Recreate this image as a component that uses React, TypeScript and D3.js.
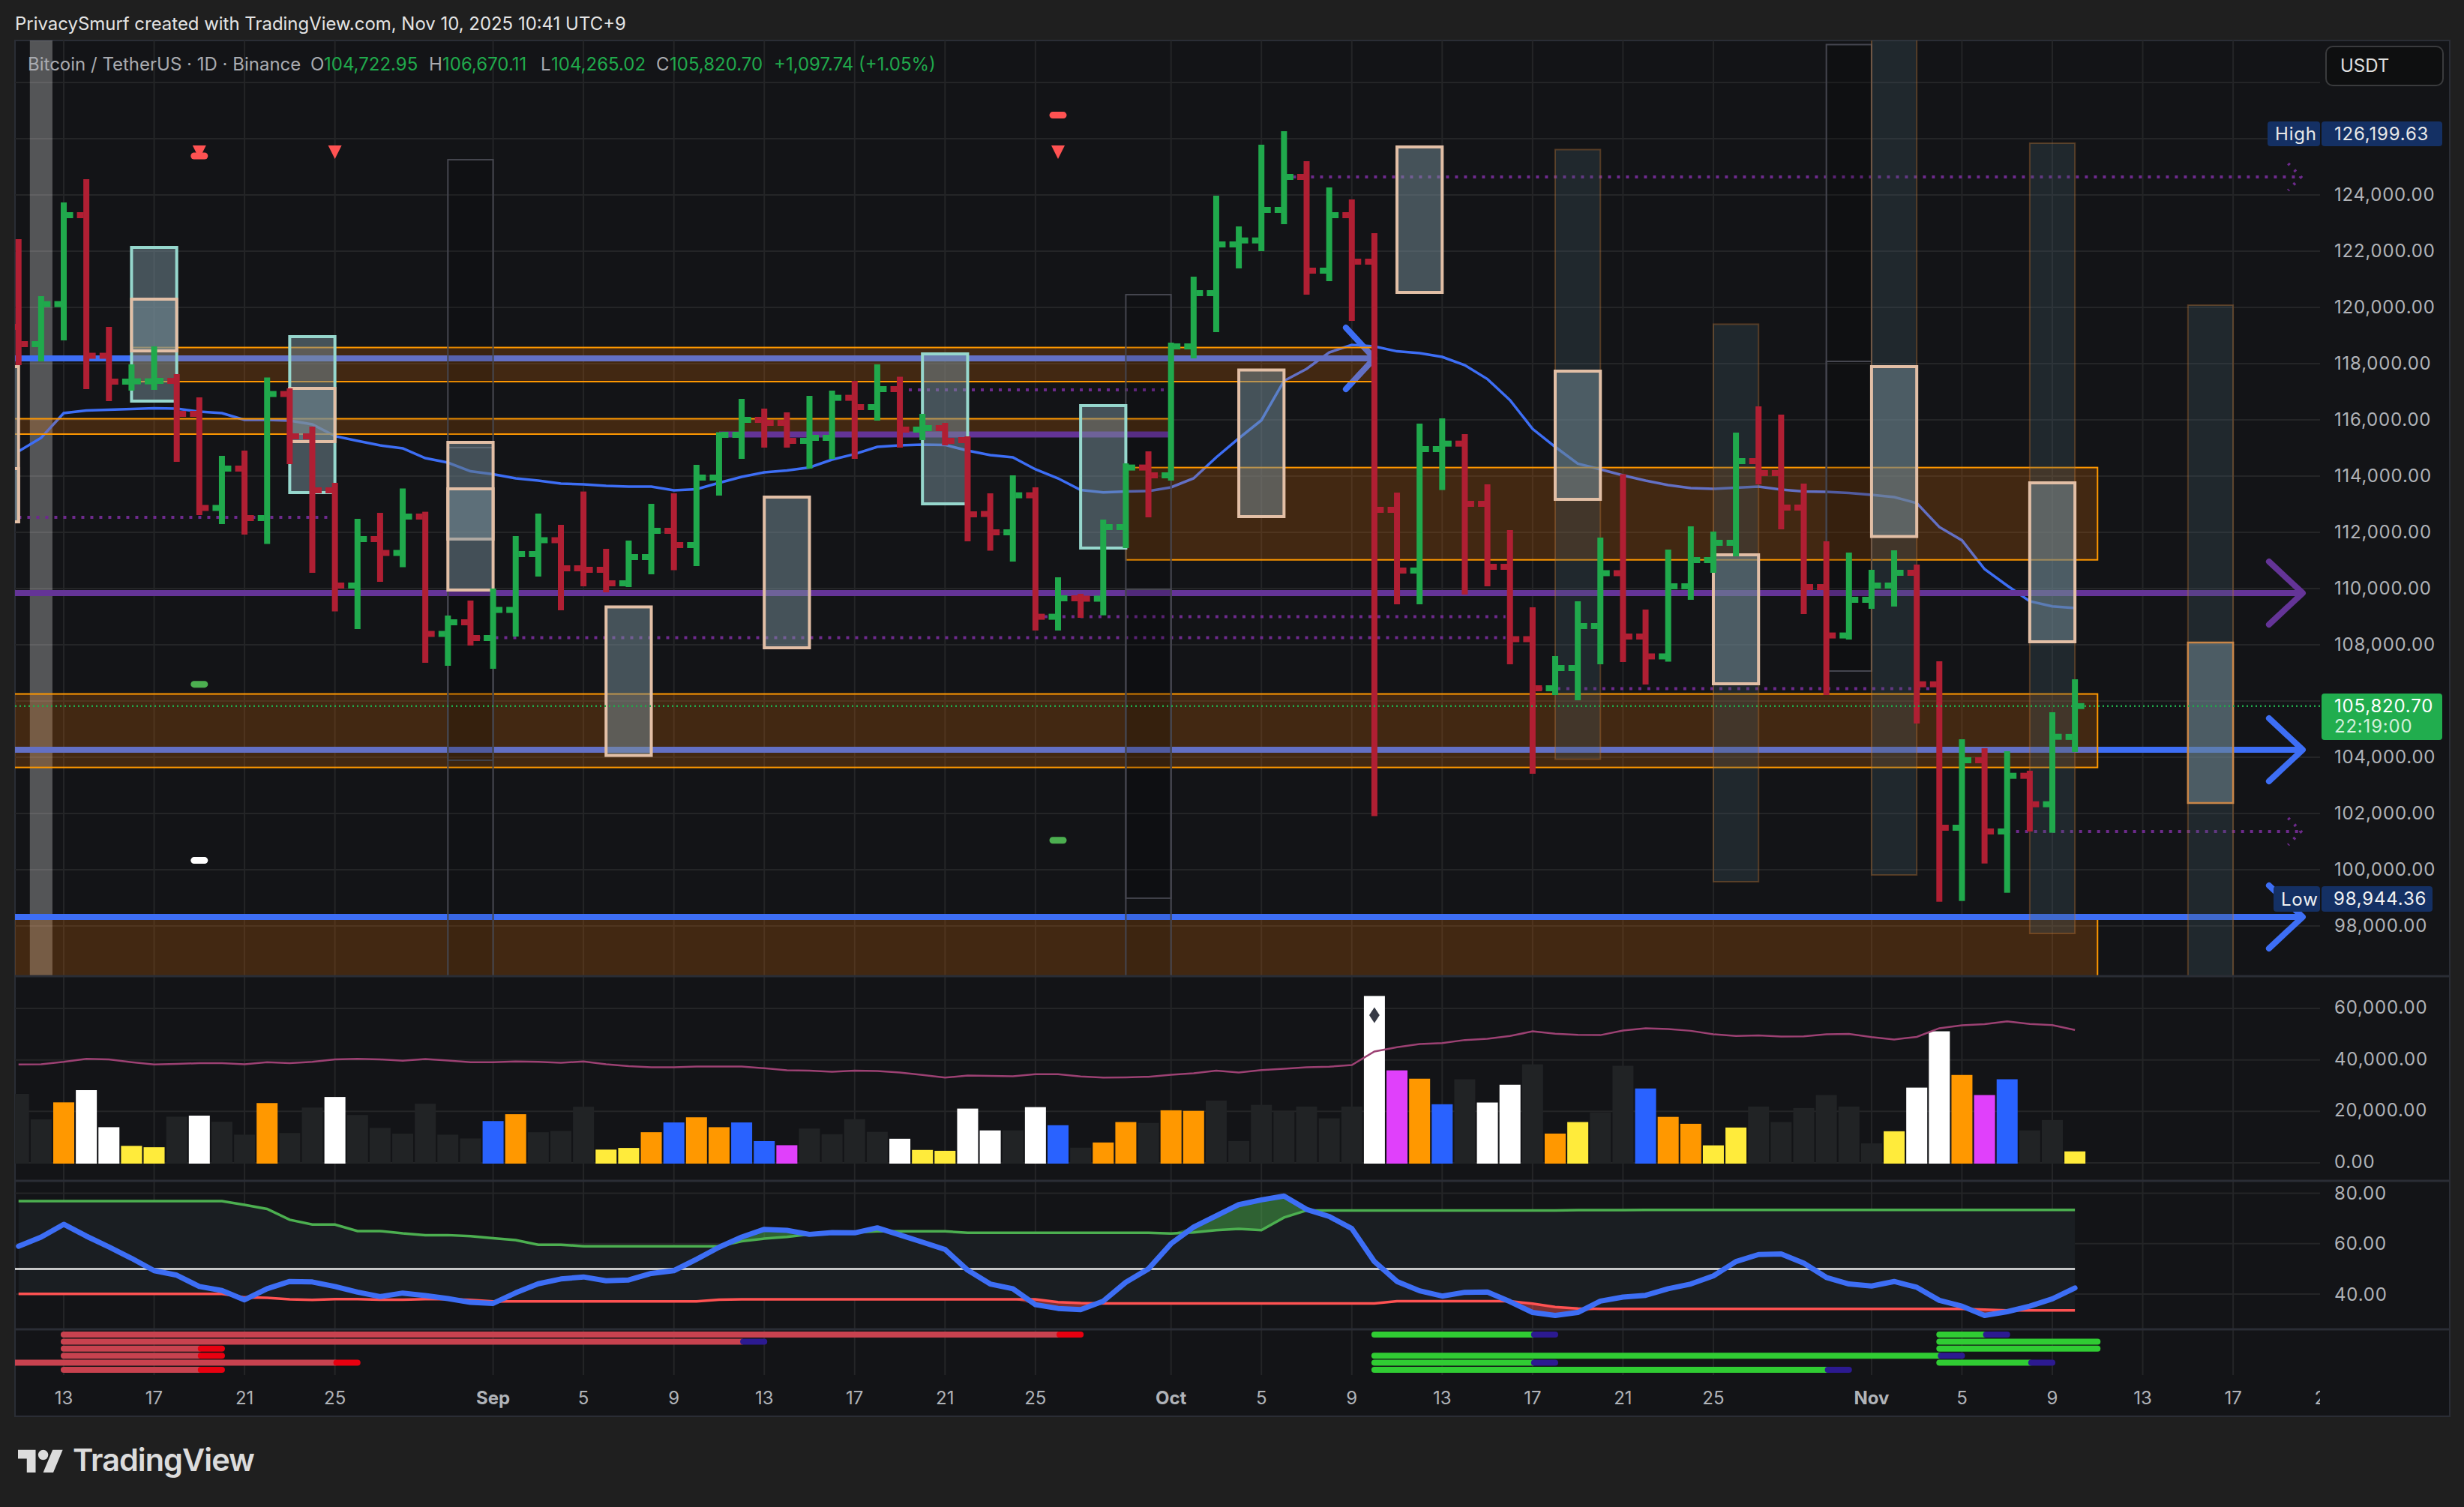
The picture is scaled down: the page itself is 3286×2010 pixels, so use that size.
import React from "react";
import * as d3 from "d3";

const FONT = "Inter, 'Noto Sans', sans-serif";
const W = 3286, H = 2010;
const L = 20, R = 3094, RF = 3267, T = 54, MB = 1302, VB = 1575, OB = 1773, SB = 1834, TB = 1889;

// ---- time: day index 0 = Aug 13 2025; first bar = -2 (Aug 11)
const firstDay = -2;
const timeTicks: [number, string, boolean][] = [
  [0, "13", false], [4, "17", false], [8, "21", false], [12, "25", false], [19, "Sep", true], [23, "5", false], [27, "9", false],
  [31, "13", false], [35, "17", false], [39, "21", false], [43, "25", false], [49, "Oct", true], [53, "5", false], [57, "9", false],
  [61, "13", false], [65, "17", false], [69, "21", false], [73, "25", false], [80, "Nov", true], [84, "5", false], [88, "9", false],
  [92, "13", false], [96, "17", false], [100, "21", false],
];

// ---- OHLC
const opens = [
  119307, 118693, 120117, 123280, 118280, 117360, 117370, 117387, 116213, 112867, 114267, 112507, 116920, 115413, 113493, 110107, 111760, 111267, 112560, 108387, 108800,
  108240, 109240, 111227, 111720, 110720, 110667, 110187, 111120, 112053, 111547, 113947, 115467, 116000, 115893, 115253, 115360, 116784, 116453, 117093, 115653, 115707, 115280, 112653, 112000, 113317, 108997, 109653, 109640, 112187, 114304,
  114027, 118613, 120507, 122240, 122381, 123467, 124640, 121307, 123280, 121627, 112800, 110640, 114960, 115155, 113013, 110773, 108200, 106453, 107173, 108667, 110547, 108293, 107587, 110080, 111013, 111627, 114533, 114107, 112880, 110053, 108331,
  109600, 110107, 110560, 106595, 101493, 103893, 101360, 103341, 102328, 104722.95,
];
const highs = [
  122427, 120400, 123733, 124560, 119307, 117973, 118613, 117627, 116800, 114720, 114907, 117507, 117120, 115760, 113760, 112480, 112693, 113560, 112731, 109040, 109573,
  110000, 111867, 112667, 112267, 113451, 111413, 111707, 113013, 113387, 114400, 115560, 116747, 116400, 116267, 116853, 117040, 117387, 117973, 117533, 116213, 115893, 115413, 113387, 114027, 113600, 110400, 109813, 112453, 114453, 114880,
  118747, 121093, 123973, 122880, 125787, 126267, 125200, 124267, 123840, 122640, 113413, 115867, 116053, 115493, 113707, 112080, 109333, 107600, 109547, 111813, 114067, 109253, 111387, 112213, 112027, 115547, 116480, 116187, 113733, 111680, 111280,
  110667, 111360, 110853, 107413, 104640, 104320, 104213, 103520, 105600, 106773,
];
const lows = [
  117947, 118080, 118827, 117093, 116667, 117040, 117067, 114507, 112613, 112293, 111920, 111587, 114427, 110560, 109187, 108560, 110240, 110760, 107360, 107253, 107973,
  107147, 108293, 110427, 109227, 110080, 109867, 110053, 110507, 110653, 110800, 113307, 114613, 115013, 115013, 114267, 114613, 114613, 115973, 115013, 115280, 115093, 111680, 111347, 110960, 108507, 108507, 108960, 109048, 111440, 112533,
  113840, 118187, 119120, 121387, 122000, 122960, 120453, 120933, 119520, 101907, 109440, 109440, 113504, 109787, 110080, 107307, 103413, 106213, 106027, 107307, 107387, 106587, 107400, 109600, 110560, 111147, 113707, 112107, 109093, 106213, 108187,
  109280, 109360, 105200, 98861, 98888, 100221, 99181, 101360, 101315, 104187,
];
const closes = [
  118693, 120117, 123280, 118280, 117360, 117370, 117387, 116213, 112867, 114267, 112507, 116920, 115413, 113493, 110107, 111760, 111267, 112560, 108387, 108800, 108240,
  109240, 111227, 111720, 110720, 110667, 110187, 111120, 112053, 111547, 113947, 115467, 116000, 115893, 115253, 115360, 116784, 116453, 117093, 115653, 115707, 115253, 112640, 112000, 113317, 108997, 109653, 109640, 112187, 114304, 114027,
  118613, 120507, 122240, 122381, 123467, 124640, 121307, 123280, 121627, 112800, 110640, 114960, 115155, 113013, 110773, 108200, 106453, 107173, 108667, 110547, 108293, 107587, 110080, 111013, 111627, 114533, 114107, 112880, 110053, 108331, 109600,
  110107, 110560, 106595, 101493, 103893, 101360, 103341, 102328, 104728, 105820.7,
];
const priceMA = [
  114880, 115360, 116240, 116336, 116363, 116389, 116416, 116400, 116293, 116240, 116000, 116000, 115973, 115840, 115424, 115253, 115093, 114987, 114640, 114480, 114171,
  114064, 113920, 113840, 113733, 113707, 113653, 113627, 113627, 113493, 113533, 113760, 113973, 114133, 114200, 114307, 114587, 114784, 115040, 115093, 115120, 115109, 114907, 114747, 114667, 114240, 113920, 113504, 113419, 113453, 113467,
  113600, 113920, 114667, 115341, 115987, 117387, 117813, 118400, 118667, 118613, 118437, 118373, 118240, 117947, 117451, 116701, 115680, 115040, 114440, 114240, 114027, 113840, 113680, 113573, 113547, 113587, 113627, 113520, 113451, 113440, 113400,
  113333, 113253, 113040, 112187, 111715, 110693, 110107, 109547, 109368, 109307,
];

// ---- volume
const volumes = [
  26800, 16900, 23500, 28250, 13860, 6600, 6070, 17950, 18350, 15970, 10960, 23230, 11600, 21500, 25600, 18600, 13600, 11350, 23000, 10960, 9500,
  16240, 18900, 11900, 12400, 21800, 5150, 5800, 11900, 15700, 17700, 13860, 15700, 8450, 6860, 13330, 11160, 16960, 12050, 9370, 5020, 4690, 21090, 12610, 12610, 21650, 14620, 5910, 7920, 15850, 15510,
  20420, 20200, 24220, 8480, 22540, 19860, 21870, 17300, 21870, 64840, 35935, 32700, 22770, 32480, 23440, 30360, 38280, 11380, 15850, 19640, 37720, 28900, 17860, 15180, 6800, 13730, 21870, 15850, 21300, 26340, 21870,
  7590, 12280, 29240, 51110, 34150, 26340, 32480, 12610, 16630, 4460,
];
const volumeKinds = (
  "g g o w w y y g w g g o g g w g g g g g g " +
  "b o g g g y y o b o o b b m g g g g w y y w w g w b g o o g " +
  "o o g g g g g g g w m o b g w w g o y g g b o o y y g g g g g " +
  "g y w w o m b g g y"
).split(" ");
const volumeColors: Record<string, string> = { g: "#212325", o: "#ff9800", w: "#ffffff", y: "#ffeb3b", b: "#2962ff", m: "#e040fb" };
const volumeMA = [
  38200, 38330, 39250, 40440, 40180, 39120, 38200, 38460, 38720, 38720, 38330, 39120, 38720, 39250, 40180, 40440, 40180, 39650, 40310, 39780, 39120,
  39120, 39390, 39250, 38860, 39390, 38330, 37540, 37140, 37140, 37400, 37400, 37400, 36750, 35950, 35820, 35420, 35790, 35680, 35120, 34120, 33110, 33900, 33780, 33670, 34450, 34450, 33560, 33110, 33225, 33450,
  34230, 34790, 35790, 35120, 36015, 36570, 37130, 37355, 38025, 43270, 44940, 46170, 46500, 47730, 48180, 49300, 51080, 50190, 49740, 49630, 51415, 52310, 51970, 51300, 49970, 49300, 49520, 49070, 49180, 49970, 50080,
  48850, 47950, 48960, 52310, 53425, 53870, 54990, 53980, 53535, 51640,
];

// ---- RSI pane
const rsi = [
  59, 62.6, 67.7, 63, 58.7, 54.2, 49.3, 47.5, 43, 41.4, 37.7, 42.1, 45, 44.8, 43, 40.8, 39, 40.4, 39.4, 38.2, 36.7,
  36.3, 40.5, 44.1, 46, 46.8, 45.3, 45.6, 48.2, 49.3, 53.8, 58.6, 62.6, 65.7, 65.3, 63.7, 64.4, 64.3, 66.3, 63.5, 60.6, 57.7, 49.5, 44, 42.1, 35.8, 34.3, 33.8, 37.2, 44.7, 50,
  60, 66.6, 71.1, 75.5, 77.4, 78.9, 73.6, 70.8, 66, 52.9, 45, 41.3, 39.2, 40.7, 40.8, 37, 32.7, 31.5, 32.7, 37.2, 38.8, 39.5, 42.1, 44, 47.2, 52.9, 55.7, 55.9, 52.3, 46.6, 44,
  43.2, 45, 42.7, 37.5, 35.2, 31.5, 33, 35.2, 38.1, 42.4,
];
const upperBand = [
  76.9, 76.9, 76.9, 76.9, 76.9, 76.9, 76.9, 76.9, 76.9, 76.9, 75.4, 73.8, 69.5, 67.6, 67.6, 65, 65, 64.1, 63.4, 63.4, 63,
  62.2, 61.4, 59.6, 59.6, 59, 59, 59, 59, 59, 59, 59, 61, 62, 62.7, 63.7, 64.4, 64.5, 64.9, 64.9, 64.9, 64.9, 64.3, 64.3, 64.3, 64.3, 64.3, 64.3, 64.3, 64.3, 64.3,
  64, 64.5, 65.4, 65.9, 65.4, 70.4, 73.2, 73.2, 73.2, 73.2, 73.2, 73.2, 73.2, 73.2, 73.2, 73.2, 73.2, 73.2, 73.3, 73.3, 73.3, 73.4, 73.4, 73.4, 73.4, 73.4, 73.4, 73.4, 73.4, 73.4, 73.4,
  73.4, 73.4, 73.4, 73.4, 73.4, 73.4, 73.4, 73.4, 73.4, 73.4,
];
const lowerBand = [
  40.1, 40.1, 40.1, 40.1, 40.1, 40.1, 40.1, 40.1, 40.1, 40.1, 38.7, 38.5, 37.9, 37.7, 38, 38, 37.8, 37.8, 38, 38, 37.7,
  37.1, 37.1, 37.1, 37.1, 37.1, 37.1, 37.1, 37.1, 37.1, 37.1, 37.8, 37.9, 37.9, 37.9, 37.9, 37.9, 37.9, 37.9, 37.9, 37.9, 37.9, 37.9, 37.9, 37.9, 37.9, 36.8, 36.4, 36.3, 36.3, 36.3,
  36.3, 36.3, 36.3, 36.3, 36.3, 36.3, 36.3, 36.3, 36.3, 36.3, 37.2, 37.2, 37.2, 37.2, 37.2, 37.2, 36.2, 34.9, 34.3, 34.1, 34.1, 34.1, 34.1, 34.1, 34.1, 34.1, 34.1, 34.1, 34.1, 34.1, 34.1,
  34.1, 34.1, 34.1, 34.1, 34.1, 33.8, 33.5, 33.5, 33.5, 33.5,
];

// ---- strips: row, start day, run end day, hold end day, kind
const stripSegments: [number, number, number, number, string][] = [
  [0, 0, 44, 45, "red"], [1, 0, 30, 31, "redBlue"], [2, 0, 6, 7, "red"], [3, 0, 6, 7, "red"], [4, -4, 12, 13, "red"], [5, 0, 6, 7, "red"],
  [0, 58, 65, 66, "green"], [3, 58, 83, 84, "green"], [4, 58, 65, 66, "green"], [5, 58, 78, 79, "green"],
  [0, 83, 85, 86, "green"], [1, 83, 90, 90, "green"], [2, 83, 90, 90, "green"], [4, 83, 87, 88, "green"],
];

// ---- drawings on the price pane
const zones: [number, number, number, number][] = [
  [3, 58, 118573, 117360], [-4, 49, 116040, 115493], [47, 90, 114304, 111021], [-4, 90, 106251, 103637], [-4, 90, 98240, 90000],
];
// levels under the zones
const solidLines: [number, number, number, string, number, number, number][] = [
  [-4, 58, 118187, "#3d6ef5", 8, 38, 41], [-4, 99.08, 109840, "#643497", 8, 45, 42], [-4, 99.08, 104267, "#3d6ef5", 8, 45, 42],
];
// levels above the zones
const topLines: [number, number, number, string, number, number, number][] = [
  [29, 49, 115477, "#643497", 8, 0, 0], [-4, 99.08, 98320, "#3d6ef5", 8, 45, 42],
];
const dottedLines: [number, number, number, boolean][] = [
  [-4, 11.8, 112533, false], [37, 49, 117067, false], [18.3, 63.8, 108251, false], [43.4, 63.8, 108997, false],
  [54.4, 99, 124640, true], [65.3, 82.7, 106440, false], [85.6, 99, 101360, true],
];
const beigeBoxes: [number, number, number, number][] = [
  [-4, -2, 117893, 112373], [-4, -2, 114267, 112373], [3, 5, 120293, 118453], [10, 12, 117120, 115227], [17, 19, 115200, 111760], [17, 19, 113547, 109947],
  [24, 26, 109347, 104064], [31, 33, 113253, 107893], [52, 54, 117773, 112560], [59, 61, 125707, 120533], [66, 68, 117733, 113173],
  [73, 75, 111200, 106613], [80, 82, 117893, 111851], [87, 89, 113760, 108107],
];
const tealBoxes: [number, number, number, number][] = [
  [3, 5, 122133, 116667], [10, 12, 118960, 113413], [38, 40, 118347, 113013], [45, 47, 116507, 111440],
];
const dimBoxes: [number, number, number, number][] = [
  [66, 68, 125613, 103931], [73, 75, 119403, 99573], [80, 82, 131000, 99813], [87, 89, 125840, 97733], [94, 96, 120080, 90000],
];
const outlineBoxes: [number, number, number, number, number][] = [
  [17, 19, 125253, 103893, 0.12], [17, 19, 115013, 90000, 0.07],
  [47, 49, 120453, 98987, 0.12], [47, 49, 109973, 90000, 0.07],
  [78, 80, 129347, 107067, 0.18], [78, 80, 118080, 107067, 0],
];
const orangeThinBox: [number, number, number, number] = [94, 96, 108080, 102373];
const downTriangles: [number, number][] = [[6, 125760], [12, 125760], [44, 125760]];
const pills: [number, number, string][] = [[6, 125387, "#ff5252"], [44, 126837, "#ff5252"], [6, 106595, "#4caf50"], [6, 100331, "#ffffff"], [44, 101048, "#4caf50"]];

const priceTicks = [98000, 100000, 102000, 104000, 108000, 110000, 112000, 114000, 116000, 118000, 120000, 122000, 124000];
const hiddenGridPrices = [106000, 126000, 128000];
const volumeTicks = [0, 20000, 40000, 60000];
const rsiTicks = [40, 60, 80];

const x = d3.scaleLinear().domain([0, 88]).range([85, 2737]);
const y = d3.scaleLinear().domain([110000, 98000]).range([785, 1235]);
const yVol = d3.scaleLinear().domain([0, 60000]).range([1551, 1345]);
const yRsi = d3.scaleLinear().domain([40, 80]).range([1726, 1591.6]);
const fmt = d3.format(",.2f");
const dayOf = (i: number) => i + firstDay;

const BG = "#131417", PAGE = "#1f1f1f", GRID = "#242527", SEP = "#2a2d35", AXIS = "#b0b3b8";
const RED = "#b01f33", GREEN = "#20a94c";

const lineX = (i: number) => x(dayOf(i));
const maPath = d3.line<number>().x((_, i) => lineX(i)).y(d => y(d))(priceMA)!;
const volMaPath = d3.line<number>().x((_, i) => lineX(i)).y(d => yVol(d))(volumeMA)!;
const rsiPath = d3.line<number>().x((_, i) => lineX(i)).y(d => yRsi(d))(rsi)!;
const upperPath = d3.line<number>().x((_, i) => lineX(i)).y(d => yRsi(d))(upperBand)!;
const lowerPath = d3.line<number>().x((_, i) => lineX(i)).y(d => yRsi(d))(lowerBand)!;
const idx = d3.range(rsi.length);
const bandArea = d3.area<number>().x(i => lineX(i)).y0(i => yRsi(upperBand[i])).y1(i => yRsi(lowerBand[i]))(idx)!;
const overArea = d3.area<number>().x(i => lineX(i)).y0(i => yRsi(upperBand[i])).y1(i => yRsi(Math.max(rsi[i], upperBand[i])))(idx)!;
const underArea = d3.area<number>().x(i => lineX(i)).y0(i => yRsi(lowerBand[i])).y1(i => yRsi(Math.min(rsi[i], lowerBand[i])))(idx)!;

const Box = ({ b, stroke, sw, fill }: { b: number[]; stroke: string; sw: number; fill: string }) => (
  <rect x={x(b[0])} y={y(b[2])} width={x(b[1]) - x(b[0])} height={y(b[3]) - y(b[2])} fill={fill} stroke={stroke} strokeWidth={sw} />
);
const BOXFILL = "rgba(120,144,156,0.5)";
const Level = ({ l }: { l: [number, number, number, string, number, number, number] }) => (
  <g>
    <line x1={x(l[0])} x2={x(l[1])} y1={y(l[2])} y2={y(l[2])} stroke={l[3]} strokeWidth={l[4]} />
    {l[5] > 0 && <path d={`M${x(l[1]) - l[5]},${y(l[2]) - l[6]}L${x(l[1])},${y(l[2])}L${x(l[1]) - l[5]},${y(l[2]) + l[6]}`} fill="none" stroke={l[3]} strokeWidth={8} strokeLinecap="round" strokeLinejoin="round" />}
  </g>
);

export default function App() {
  return (
    <svg width={W} height={H} viewBox={`0 0 ${W} ${H}`} style={{ position: "absolute", left: 0, top: 0, display: "block" }} fontFamily={FONT}>
      <defs>
        <clipPath id="main"><rect x={L} y={T} width={R - L} height={MB - T} /></clipPath>
        <clipPath id="lower"><rect x={L} y={MB} width={R - L} height={TB - MB} /></clipPath>
        <clipPath id="axis"><rect x={L} y={SB} width={R - L} height={TB - SB} /></clipPath>
      </defs>
      <rect width={W} height={H} fill={PAGE} />
      <rect x={L} y={T} width={RF - L} height={TB - T} fill={BG} stroke={SEP} strokeWidth={2} />

      {/* grid */}
      {[...priceTicks, ...hiddenGridPrices].map(p => <line key={p} x1={L} x2={R} y1={y(p)} y2={y(p)} stroke={GRID} strokeWidth={2} />)}
      {volumeTicks.map(v => <line key={v} x1={L} x2={R} y1={yVol(v)} y2={yVol(v)} stroke={GRID} strokeWidth={2} />)}
      {rsiTicks.map(v => <line key={v} x1={L} x2={R} y1={yRsi(v)} y2={yRsi(v)} stroke={GRID} strokeWidth={2} />)}
      {timeTicks.filter(t => x(t[0]) < R).map(t => <line key={t[0]} x1={x(t[0])} x2={x(t[0])} y1={T} y2={SB} stroke={GRID} strokeWidth={2} />)}

      <g clipPath="url(#main)">
        {/* session band */}
        <rect x={x(-1.5)} y={T} width={x(-0.5) - x(-1.5)} height={MB - T} fill="rgba(255,255,255,0.28)" />
        {/* moving average and levels */}
        <path d={maPath} fill="none" stroke="#3d6ef5" strokeWidth={3.5} />
        {solidLines.map((l, i) => <Level key={i} l={l} />)}
        {dottedLines.map((l, i) => (
          <g key={i}>
            <line x1={x(l[0])} x2={x(l[1])} y1={y(l[2])} y2={y(l[2])} stroke="#6d2a8c" strokeWidth={4} strokeDasharray="4 8" />
            {l[3] && <path d={`M${x(l[1]) - 17},${y(l[2]) - 18}L${x(l[1])},${y(l[2])}L${x(l[1]) - 17},${y(l[2]) + 18}`} fill="none" stroke="#6d2a8c" strokeWidth={4} strokeDasharray="3 9" />}
          </g>
        ))}
        {/* zones */}
        {zones.map((z, i) => <Box key={i} b={z} fill="rgba(255,120,0,0.2)" stroke="#ff9800" sw={2} />)}
        {topLines.map((l, i) => <Level key={i} l={l} />)}
        {/* boxes */}
        {outlineBoxes.map((b, i) => <Box key={i} b={b} fill={`rgba(0,0,0,${b[4]})`} stroke="#45464f" sw={2} />)}
        {dimBoxes.map((b, i) => <Box key={i} b={b} fill="rgba(70,92,104,0.28)" stroke="rgba(200,120,50,0.35)" sw={2} />)}
        {tealBoxes.map((b, i) => <Box key={i} b={b} fill={BOXFILL} stroke="#96d7cd" sw={4} />)}
        {beigeBoxes.map((b, i) => <Box key={i} b={b} fill={BOXFILL} stroke="#e2bfa6" sw={4} />)}
        <Box b={orangeThinBox} fill={BOXFILL} stroke="#c98648" sw={2.5} />
        {/* OHLC */}
        {closes.map((c, i) => {
          const col = c >= opens[i] ? GREEN : RED;
          const cx = lineX(i);
          return (
            <g key={i} fill={col}>
              <rect x={cx - 4} y={y(highs[i])} width={8} height={y(lows[i]) - y(highs[i])} />
              <rect x={cx - 12.5} y={y(opens[i]) - 4} width={9} height={8} />
              <rect x={cx + 3.5} y={y(c) - 4} width={9} height={8} />
            </g>
          );
        })}
        {/* markers */}
        {downTriangles.map((m, i) => <path key={i} d={`M${x(m[0]) - 9},${y(m[1])}h18l-9,18z`} fill="#ff5252" />)}
        {pills.map((m, i) => <rect key={i} x={x(m[0]) - 11.5} y={y(m[1]) - 4.5} width={23} height={9} rx={4.5} fill={m[2]} />)}
      </g>
      {/* last price line */}
      <line x1={L} x2={R} y1={y(closes[closes.length - 1])} y2={y(closes[closes.length - 1])} stroke="#20a94c" strokeWidth={2.5} strokeDasharray="2 4" />

      <g clipPath="url(#lower)">
        {/* volume */}
        {volumes.map((v, i) => <rect key={i} x={lineX(i) - 14} y={yVol(v)} width={28} height={1552 - yVol(v)} fill={volumeColors[volumeKinds[i]]} />)}
        <path d={d3.symbol().type(d3.symbolDiamond2).size(170)()!} transform={`translate(${x(58)},1354) scale(0.85,1.3)`} fill="#363a45" />
        <path d={volMaPath} fill="none" stroke="#9c4173" strokeWidth={2.5} />
        {/* rsi */}
        <path d={bandArea} fill="#1a1e22" />
        <path d={overArea} fill="rgba(76,175,80,0.5)" />
        <path d={underArea} fill="rgba(255,82,82,0.45)" />
        <line x1={L} x2={lineX(rsi.length - 1)} y1={yRsi(50)} y2={yRsi(50)} stroke="#e8e8e8" strokeWidth={2.5} />
        <path d={upperPath} fill="none" stroke="#4caf50" strokeWidth={3.5} />
        <path d={lowerPath} fill="none" stroke="#ff5252" strokeWidth={3.5} />
        <path d={rsiPath} fill="none" stroke="#3d6ef5" strokeWidth={7} strokeLinejoin="round" strokeLinecap="round" />
        {/* strips */}
        {stripSegments.map((s, i) => {
          const ry = d3.scaleLinear().domain([0, 5]).range([1780, 1827])(s[0]);
          const body = s[4] === "green" ? "#30cc33" : "#c8424f";
          const end = s[4] === "red" ? "#e80010" : "#2c1a91";
          return (
            <g key={i}>
              <rect x={x(s[1]) - 4} y={ry - 4} width={x(s[2]) - x(s[1]) + 8} height={8} rx={4} fill={body} />
              {s[3] > s[2] && <rect x={x(s[2]) - 2} y={ry - 4} width={x(s[3]) - x(s[2]) + 6} height={8} rx={4} fill={end} />}
            </g>
          );
        })}
      </g>

      {/* pane separators */}
      {[MB, VB, OB].map(s => <line key={s} x1={L} x2={RF} y1={s} y2={s} stroke={SEP} strokeWidth={3} />)}

      {/* time axis */}
      <g clipPath="url(#axis)" fontSize={24} textAnchor="middle" fill={AXIS}>
        {timeTicks.map(t => <text key={t[0]} x={x(t[0])} y={1873} fontWeight={t[2] ? 700 : 400}>{t[1]}</text>)}
      </g>

      {/* price axis */}
      <g fontSize={24} fill={AXIS} letterSpacing={0.8}>
        {priceTicks.map(p => <text key={p} x={3113} y={y(p) + 8}>{fmt(p)}</text>)}
        {volumeTicks.map(v => <text key={v} x={3113} y={yVol(v) + 7}>{fmt(v)}</text>)}
        {rsiTicks.map(v => <text key={v} x={3113} y={yRsi(v) + 8.5}>{fmt(v)}</text>)}
      </g>

      {/* price labels */}
      <g fontSize={24} letterSpacing={0.8}>
        <rect x={3024} y={162} width={70} height={33} rx={4} fill="#143064" />
        <rect x={3096} y={162} width={161} height={33} rx={4} fill="#143064" />
        <text x={3034} y={187} fill="#e8e8e8">High</text>
        <text x={3113} y={187} fill="#e8e8e8">{fmt(126199.63)}</text>
        <rect x={3032} y={1182} width={62} height={34} rx={4} fill="#143064" />
        <rect x={3096} y={1182} width={148} height={34} rx={4} fill="#143064" />
        <text x={3042} y={1208} fill="#f2f2f2">Low</text>
        <text x={3112} y={1207} fill="#f2f2f2">{fmt(98944.36)}</text>
        <rect x={3096} y={925} width={161} height={62} rx={4} fill="#21ad4e" />
        <text x={3113} y={950} fill="#ffffff">{fmt(105820.7)}</text>
        <text x={3113} y={977} fill="#d3f0dc">22:19:00</text>
      </g>

      {/* currency */}
      <rect x={3102} y={62} width={156} height={52} rx={9} fill="#0e0f10" stroke="#3a3b3d" strokeWidth={2} />
      <text x={3121} y={96} fontSize={24} fill="#e0e0e0">USDT</text>

      {/* header */}
      <text x={20} y={40} fontSize={23.95} fill="#e4e4e4">PrivacySmurf created with TradingView.com, Nov 10, 2025 10:41 UTC+9</text>
      <g fontSize={24}>
        <text x={37} y={94} fill="#a9abb0">Bitcoin / TetherUS · 1D · Binance</text>
        <text x={414} y={94} fill="#a9abb0">O</text><text x={432} y={94} fill="#20a94c">104,722.95</text>
        <text x={572} y={94} fill="#a9abb0">H</text><text x={590} y={94} fill="#20a94c">106,670.11</text>
        <text x={721} y={94} fill="#a9abb0">L</text><text x={735} y={94} fill="#20a94c">104,265.02</text>
        <text x={875} y={94} fill="#a9abb0">C</text><text x={893} y={94} fill="#20a94c">105,820.70</text>
        <text x={1032} y={94} fill="#20a94c">+1,097.74 (+1.05%)</text>
      </g>

      {/* footer */}
      <g fill="#dcdcdc">
        <g transform="translate(24,1927) scale(1.68)">
          <path d="M14 22H7V11H0V4h14v18ZM28 22h-8l7.5-18h8L28 22Z" />
          <circle cx="20" cy="8" r="4" />
        </g>
        <text x={97} y={1962} fontSize={41.5} fontWeight={600} letterSpacing={-1}>TradingView</text>
      </g>
    </svg>
  );
}
